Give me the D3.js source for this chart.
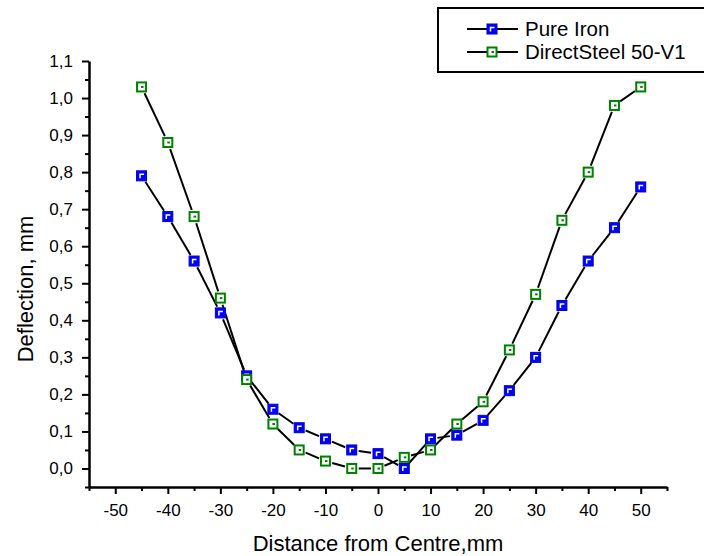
<!DOCTYPE html>
<html>
<head>
<meta charset="utf-8">
<script src="https://cdn.jsdelivr.net/npm/d3@7"></script>
<style>
  body { margin: 0; background: #fff; }
  svg { display: block; font-family: "Liberation Sans", Arial, sans-serif; }
  .tick text { font-size: 17px; font-family: "Liberation Sans", Arial, sans-serif; fill: #000; }
</style>
</head>
<body>
<div id="chart"></div>
<script>
// data
var distance = [-45, -40, -35, -30, -25, -20, -15, -10, -5, 0, 5, 10, 15, 20, 25, 30, 35, 40, 45, 50];
var pureIron = [0.79, 0.68, 0.56, 0.42, 0.25, 0.16, 0.11, 0.08, 0.05, 0.04, 0.00, 0.08, 0.09, 0.13, 0.21, 0.30, 0.44, 0.56, 0.65, 0.76];
var directSteel = [1.03, 0.88, 0.68, 0.46, 0.24, 0.12, 0.05, 0.02, 0.00, 0.00, 0.03, 0.05, 0.12, 0.18, 0.32, 0.47, 0.67, 0.80, 0.98, 1.03];
var seriesNames = ["Pure Iron", "DirectSteel 50-V1"];
var xMajorTicks = [-50, -40, -30, -20, -10, 0, 10, 20, 30, 40, 50];
var yMajorTicks = [0, 0.1, 0.2, 0.3, 0.4, 0.5, 0.6, 0.7, 0.8, 0.9, 1.0, 1.1];

var width = 704, height = 556;
var margin = { top: 61, right: 37, bottom: 69, left: 89 };

var svg = d3.select("#chart").append("svg")
    .attr("width", width)
    .attr("height", height);

var x = d3.scaleLinear().domain([-55, 55]).range([margin.left, width - margin.right]);
var y = d3.scaleLinear().domain([-0.05, 1.1]).range([height - margin.bottom, margin.top]);

var commaFmt = function(d) { return d3.format(".1f")(d).replace(".", ","); };

// minor ticks first, majors on top
var xMinor = d3.range(-55, 56, 5).filter(function(v) { return v % 10 !== 0; });
var yMinor = d3.range(-1, 23, 2).map(function(v) { return v * 0.05; });

svg.append("g")
    .attr("transform", "translate(0," + y(-0.05) + ")")
    .call(d3.axisBottom(x).tickValues(xMinor).tickSize(4).tickFormat(""))
    .call(function(g) { g.select(".domain").remove(); })
    .selectAll("line").attr("stroke-width", 2);

svg.append("g")
    .attr("transform", "translate(" + x(-55) + ",0)")
    .call(d3.axisLeft(y).tickValues(yMinor).tickSize(4).tickFormat(""))
    .call(function(g) { g.select(".domain").remove(); })
    .selectAll("line").attr("stroke-width", 2);

// plain hyphen for negatives, like the original
var xAxis = svg.append("g")
    .attr("transform", "translate(0," + y(-0.05) + ")")
    .call(d3.axisBottom(x).tickValues(xMajorTicks).tickSize(7).tickSizeOuter(0).tickPadding(10).tickFormat(function(d) { return String(d); }));
xAxis.select(".domain").attr("stroke-width", 2.5);
xAxis.selectAll(".tick line").attr("stroke-width", 2);

var yAxis = svg.append("g")
    .attr("transform", "translate(" + x(-55) + ",0)")
    .call(d3.axisLeft(y).tickValues(yMajorTicks).tickSize(7).tickSizeOuter(0).tickPadding(9).tickFormat(commaFmt));
yAxis.select(".domain").attr("stroke-width", 2.5);
yAxis.selectAll(".tick line").attr("stroke-width", 2);

// axis titles
svg.append("text")
    .attr("x", (x(-55) + x(55)) / 2)
    .attr("y", 551)
    .attr("text-anchor", "middle")
    .style("font-size", "22px")
    .text("Distance from Centre,mm");

svg.append("text")
    .attr("text-anchor", "middle")
    .attr("transform", "translate(33,289)rotate(-90)")
    .style("font-size", "22px")
    .text("Deflection, mm");

// line segments with gaps around the markers
var GAP = 7;
function drawSeries(values, cls) {
    var pts = distance.map(function(d, i) { return [x(d), y(values[i])]; });
    var segs = [];
    for (var i = 0; i < pts.length - 1; i++) {
        var a = pts[i], b = pts[i + 1];
        var dx = b[0] - a[0], dy = b[1] - a[1];
        var len = Math.sqrt(dx * dx + dy * dy);
        if (len <= 2 * GAP) continue;
        var ux = dx / len, uy = dy / len;
        segs.push([a[0] + ux * GAP, a[1] + uy * GAP, b[0] - ux * GAP, b[1] - uy * GAP]);
    }
    svg.append("g").attr("class", cls + "-lines")
        .selectAll("line")
        .data(segs)
        .join("line")
        .attr("x1", function(s) { return s[0]; })
        .attr("y1", function(s) { return s[1]; })
        .attr("x2", function(s) { return s[2]; })
        .attr("y2", function(s) { return s[3]; })
        .attr("stroke", "#000")
        .attr("stroke-width", 2);
    return pts;
}

function blueMarker(g, cx, cy) {
    g.append("rect").attr("x", cx - 5).attr("y", cy - 5).attr("width", 10).attr("height", 10)
        .attr("fill", "#0000ff").attr("stroke", "#0000cc").attr("stroke-width", 1);
    g.append("path").attr("d", "M" + (cx - 1.5) + "," + (cy + 2.5) + "V" + (cy - 1.5) + "H" + (cx + 2.5))
        .attr("fill", "none").attr("stroke", "#fff").attr("stroke-width", 1.5);
}

function greenMarker(g, cx, cy) {
    g.append("rect").attr("x", cx - 4.5).attr("y", cy - 4.5).attr("width", 9).attr("height", 9)
        .attr("fill", "#fff").attr("stroke", "#008000").attr("stroke-width", 2);
    g.append("rect").attr("x", cx - 0.5).attr("y", cy - 1).attr("width", 2.5).attr("height", 2)
        .attr("fill", "#008000");
}

var ptsIron = drawSeries(pureIron, "iron");
var ptsSteel = drawSeries(directSteel, "steel");

var mIron = svg.append("g").attr("class", "iron-markers");
ptsIron.forEach(function(p) { blueMarker(mIron, p[0], p[1]); });
var mSteel = svg.append("g").attr("class", "steel-markers");
ptsSteel.forEach(function(p) { greenMarker(mSteel, p[0], p[1]); });

// legend
var legend = svg.append("g").attr("class", "legend");
legend.append("rect")
    .attr("x", 438).attr("y", 8)
    .attr("width", 280).attr("height", 64)
    .attr("fill", "#fff").attr("stroke", "#000").attr("stroke-width", 2);

seriesNames.forEach(function(name, i) {
    var ly = 29 + i * 23;
    legend.append("line").attr("x1", 467).attr("x2", 518).attr("y1", ly).attr("y2", ly)
        .attr("stroke", "#000").attr("stroke-width", 2);
    if (i === 0) blueMarker(legend, 492, ly); else greenMarker(legend, 492, ly);
    legend.append("text")
        .attr("x", 525).attr("y", ly + 7)
        .style("font-size", "20.5px")
        .text(name);
});
</script>
</body>
</html>
